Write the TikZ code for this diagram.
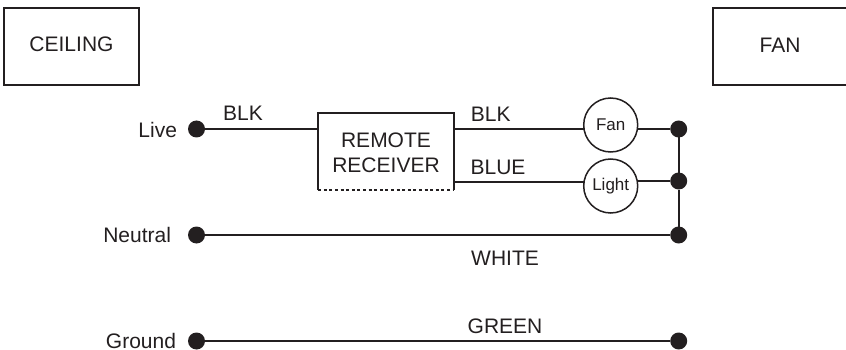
\documentclass[tikz,border=0pt]{standalone}
\usepackage{fontspec}
\setmainfont{Liberation Sans}
\definecolor{ink}{HTML}{231F20}
\tikzset{
  x=1pt,y=-1pt,
  every node/.style={text=ink,font=\fontsize{21}{25}\selectfont,inner sep=0pt,outer sep=0pt},
  wire/.style={draw=ink,line width=1.6pt},
  panel/.style={draw=ink,line width=1.7pt,minimum height=77pt},
  dot/.style={circle,fill=ink,minimum size=17pt},
  load/.style={circle,draw=ink,line width=1.5pt,fill=white,minimum size=54pt,font=\fontsize{17}{20}\selectfont},
}
\begin{document}
\begin{tikzpicture}
\useasboundingbox (0,0) rectangle (846,350);
\node[panel,minimum width=135pt] (ceiling) at (71.5,46.5) {};
\node at (71.5,44) {CEILING};
\node[panel,minimum width=137pt] (fanbox) at (781.5,46.5) {};
\node at (780,45) {FAN};
% terminals
\node[dot] (live) at (196.5,129) {};
\node[dot] (neutral) at (196.5,235) {};
\node[dot] (ground) at (196.5,341) {};
\node[dot] (d1) at (678.7,129) {};
\node[dot] (d2) at (678.7,181) {};
\node[dot] (d3) at (678.7,235) {};
\node[dot] (d4) at (678.7,341) {};
% receiver
\node[minimum width=135.5pt,minimum height=77pt] (rx) at (386,151.5) {};
\node[align=center] at (386,152.5) {REMOTE\\[-0.3pt]RECEIVER};
\draw[wire] (rx.south west) -- (rx.north west) -- (rx.north east) -- (rx.south east);
\draw[wire,dash pattern=on 3pt off 2.6pt] (rx.south west) -- (rx.south east);
% loads
\node[load] (fan) at (610.7,125) {Fan};
\node[load] (light) at (610.7,186) {Light};
% wires
\draw[wire] (live) -- (rx.west |- live);
\draw[wire] (rx.east |- d1) -- (fan.west |- d1);
\draw[wire] (fan.east |- d1) -- (d1);
\coordinate (blue) at (rx.east |- 0,182);
\draw[wire] (blue) -- (light.west |- blue);
\draw[wire] (light.east |- d2) -- (d2);
\draw[wire] (d1) -- (d2);
\draw[wire] (d2) -- (d3);
\draw[wire] (neutral) -- (d3);
\draw[wire] (ground) -- (d4);
% labels
\node at (243,113.5) {BLK};
\node at (490.7,114) {BLK};
\node at (498,167) {BLUE};
\node at (505,258) {WHITE};
\node at (505,326) {GREEN};
\node[anchor=east] at (177,130) {Live};
\node[anchor=east] at (171,235) {Neutral};
\node[anchor=east] at (176,341) {Ground};
\end{tikzpicture}
\end{document}
